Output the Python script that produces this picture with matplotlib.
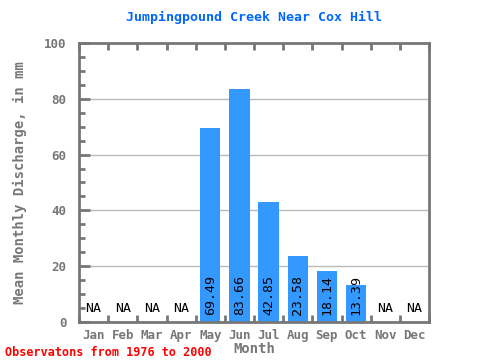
import numpy as np
import matplotlib
matplotlib.use('Agg')
import matplotlib.pyplot as plt
from matplotlib.ticker import MultipleLocator, FixedLocator

months = ['Jan', 'Feb', 'Mar', 'Apr', 'May', 'Jun', 'Jul', 'Aug', 'Sep', 'Oct', 'Nov', 'Dec']
discharge = [None, None, None, None, 69.49, 83.66, 42.85, 23.58, 18.14, 13.39, None, None]

title = 'Jumpingpound Creek Near Cox Hill'
note = 'Observatons from 1976 to 2000'

gray = '#777777'
mono = 'DejaVu Sans Mono'

fig = plt.figure(figsize=(4.8, 3.6), dpi=100)
ax = fig.add_axes([0.1646, 0.1056, 0.7292, 0.775])

x = np.arange(len(months))
for i, v in enumerate(discharge):
    if v is None:
        ax.text(i, 2.5, 'NA', ha='center', va='bottom', fontsize=9.5, family=mono, color='black')
    else:
        ax.bar(i, v, width=0.7, color='#3399ff', zorder=2)
        ax.text(i, 2.5, f'{v:.2f}', ha='center', va='bottom', rotation=90,
                fontsize=9.5, family=mono, color='black', zorder=3)

ax.set_xlim(-0.5, 11.5)
ax.set_ylim(0, 100)
ax.yaxis.set_major_locator(MultipleLocator(20))
ax.yaxis.set_minor_locator(MultipleLocator(5))
ax.xaxis.set_major_locator(FixedLocator(x))
ax.xaxis.set_minor_locator(FixedLocator(np.arange(-0.5, 12, 1)))
ax.set_xticklabels(months)

for gy in [20, 40, 60, 80]:
    ax.axhline(gy, color='#bbbbbb', lw=1, zorder=1)

for s in ax.spines.values():
    s.set_color(gray)
    s.set_linewidth(2)

ax.tick_params(axis='x', which='major', length=0, pad=5, labelsize=9, labelcolor=gray)
ax.tick_params(axis='x', which='minor', direction='in', length=5, width=2, color=gray,
               top=True, bottom=True)
ax.tick_params(axis='y', which='major', direction='in', length=8, width=2, color=gray,
               labelsize=9, labelcolor=gray, pad=9)
ax.tick_params(axis='y', which='minor', direction='in', length=4, width=2, color=gray)
for lab in ax.get_xticklabels() + ax.get_yticklabels():
    lab.set_family(mono)
    lab.set_fontweight('bold')

ax.set_xlabel('Month', family=mono, fontweight='bold', fontsize=10, color=gray, labelpad=0)
ax.set_ylabel('Mean Monthly Discharge, in mm', family=mono, fontweight='bold', fontsize=10,
              color=gray, labelpad=12)
fig.text(0.53, 0.952, title, ha='center', va='center', family=mono, fontweight='bold',
         fontsize=9.5, color='#0066ff')
fig.text(0.01, 0.022, note, ha='left', va='center', family=mono, fontweight='bold',
         fontsize=8.5, color='red')

fig.savefig('out.png', dpi=100)
